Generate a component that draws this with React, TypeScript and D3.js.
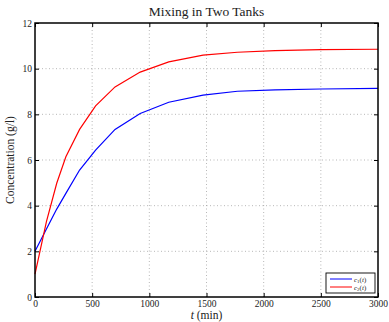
import React, { useEffect, useRef } from 'react';
import * as d3 from 'd3';

// solver output times (min) and concentrations (g/l)
const times = [0, 100, 190, 270, 390, 530, 700, 920, 1170, 1470, 1770, 2100, 2500, 3000];
const c1 = [2.0, 2.98, 3.85, 4.54, 5.56, 6.43, 7.34, 8.04, 8.53, 8.84, 9.01, 9.07, 9.11, 9.14];
const c2 = [1.0, 3.3, 4.98, 6.14, 7.34, 8.37, 9.2, 9.85, 10.3, 10.59, 10.72, 10.79, 10.83, 10.85];
const xTicks = [0, 500, 1000, 1500, 2000, 2500, 3000];
const yTicks = [0, 2, 4, 6, 8, 10, 12];

const W = 389;
const H = 322;
const FONT = '"Liberation Serif", "DejaVu Serif", serif';

const App = () => {
  const svgRef = useRef<SVGSVGElement>(null);

  useEffect(() => {
    document.body.style.margin = '0';
    const svg = d3.select(svgRef.current);
    svg.selectAll('*').remove();

    const margin = { top: 23, right: 11, bottom: 25, left: 35 };
    const x = d3.scaleLinear().domain([0, 3000]).range([margin.left, W - margin.right]);
    const y = d3.scaleLinear().domain([0, 12]).range([H - margin.bottom, margin.top]);
    const [x0, x1] = x.range();
    const [y0, y1] = y.range();

    svg.append('rect').attr('width', W).attr('height', H).attr('fill', '#fff');

    // grid
    const grid = svg.append('g').attr('stroke', '#888').attr('stroke-width', 0.6).attr('stroke-dasharray', '1,2.5');
    xTicks.slice(1, -1).forEach((t) => {
      grid.append('line').attr('x1', x(t)).attr('x2', x(t)).attr('y1', y0).attr('y2', y1);
    });
    yTicks.slice(1, -1).forEach((t) => {
      grid.append('line').attr('x1', x0).attr('x2', x1).attr('y1', y(t)).attr('y2', y(t));
    });

    // lines
    const line = d3
      .line<number>()
      .x((_, i) => x(times[i]))
      .y((d) => y(d));
    svg.append('path').datum(c1).attr('d', line).attr('fill', 'none').attr('stroke', '#0000ff').attr('stroke-width', 1.2);
    svg.append('path').datum(c2).attr('d', line).attr('fill', 'none').attr('stroke', '#ff0000').attr('stroke-width', 1.2);

    // axes with inward ticks
    const tickLen = 4;
    const axes = svg.append('g');
    axes
      .append('g')
      .attr('transform', `translate(0,${y0})`)
      .call(d3.axisBottom(x).tickValues(xTicks).tickSize(-tickLen).tickPadding(3).tickFormat(d3.format('d')))
      .call((g) => g.select('.domain').remove());
    axes
      .append('g')
      .attr('transform', `translate(0,${y1})`)
      .call(d3.axisTop(x).tickValues(xTicks).tickSize(-tickLen).tickFormat(() => ''))
      .call((g) => g.select('.domain').remove());
    axes
      .append('g')
      .attr('transform', `translate(${x0},0)`)
      .call(d3.axisLeft(y).tickValues(yTicks).tickSize(-tickLen).tickPadding(3))
      .call((g) => g.select('.domain').remove());
    axes
      .append('g')
      .attr('transform', `translate(${x1},0)`)
      .call(d3.axisRight(y).tickValues(yTicks).tickSize(-tickLen).tickFormat(() => ''))
      .call((g) => g.select('.domain').remove());
    axes.selectAll('.tick line').attr('stroke', '#000');
    axes
      .selectAll('.tick text')
      .attr('fill', '#222')
      .attr('font-family', FONT)
      .attr('font-size', 9.5);

    svg
      .append('rect')
      .attr('x', x0)
      .attr('y', y1)
      .attr('width', x1 - x0)
      .attr('height', y0 - y1)
      .attr('fill', 'none')
      .attr('stroke', '#000')
      .attr('stroke-width', 1.5);

    // labels
    svg
      .append('text')
      .attr('x', (x0 + x1) / 2)
      .attr('y', 16)
      .attr('text-anchor', 'middle')
      .attr('font-family', FONT)
      .attr('font-size', 13.5)
      .attr('fill', '#222')
      .text('Mixing in Two Tanks');

    const xl = svg
      .append('text')
      .attr('x', (x0 + x1) / 2)
      .attr('y', 319)
      .attr('text-anchor', 'middle')
      .attr('font-family', FONT)
      .attr('font-size', 11.5)
      .attr('fill', '#222');
    xl.append('tspan').attr('font-style', 'italic').text('t');
    xl.append('tspan').text(' (min)');

    svg
      .append('text')
      .attr('transform', `translate(14,${(y0 + y1) / 2}) rotate(-90)`)
      .attr('text-anchor', 'middle')
      .attr('font-family', FONT)
      .attr('font-size', 11.5)
      .attr('fill', '#222')
      .text('Concentration (g/l)');

    // legend
    const lg = svg.append('g').attr('transform', `translate(${x1 - 52},${y0 - 24})`);
    lg.append('rect').attr('width', 49).attr('height', 20).attr('fill', '#fff').attr('stroke', '#000').attr('stroke-width', 0.9);
    const entries = [
      { sub: '1', color: '#0000ff' },
      { sub: '2', color: '#ff0000' },
    ];
    entries.forEach((e, i) => {
      const yy = 6 + i * 8;
      lg.append('line').attr('x1', 4).attr('x2', 26).attr('y1', yy).attr('y2', yy).attr('stroke', e.color).attr('stroke-width', 1);
      const t = lg
        .append('text')
        .attr('x', 28)
        .attr('y', yy + 2.5)
        .attr('font-family', FONT)
        .attr('font-size', 7)
        .attr('fill', '#222');
      t.append('tspan').attr('font-style', 'italic').text('c');
      t.append('tspan').attr('font-size', 5).attr('dy', 1.5).text(e.sub);
      t.append('tspan').attr('dy', -1.5).text('(');
      t.append('tspan').attr('font-style', 'italic').text('t');
      t.append('tspan').text(')');
    });
  }, []);

  return <svg ref={svgRef} width={W} height={H} style={{ display: 'block' }} />;
};

export default App;
